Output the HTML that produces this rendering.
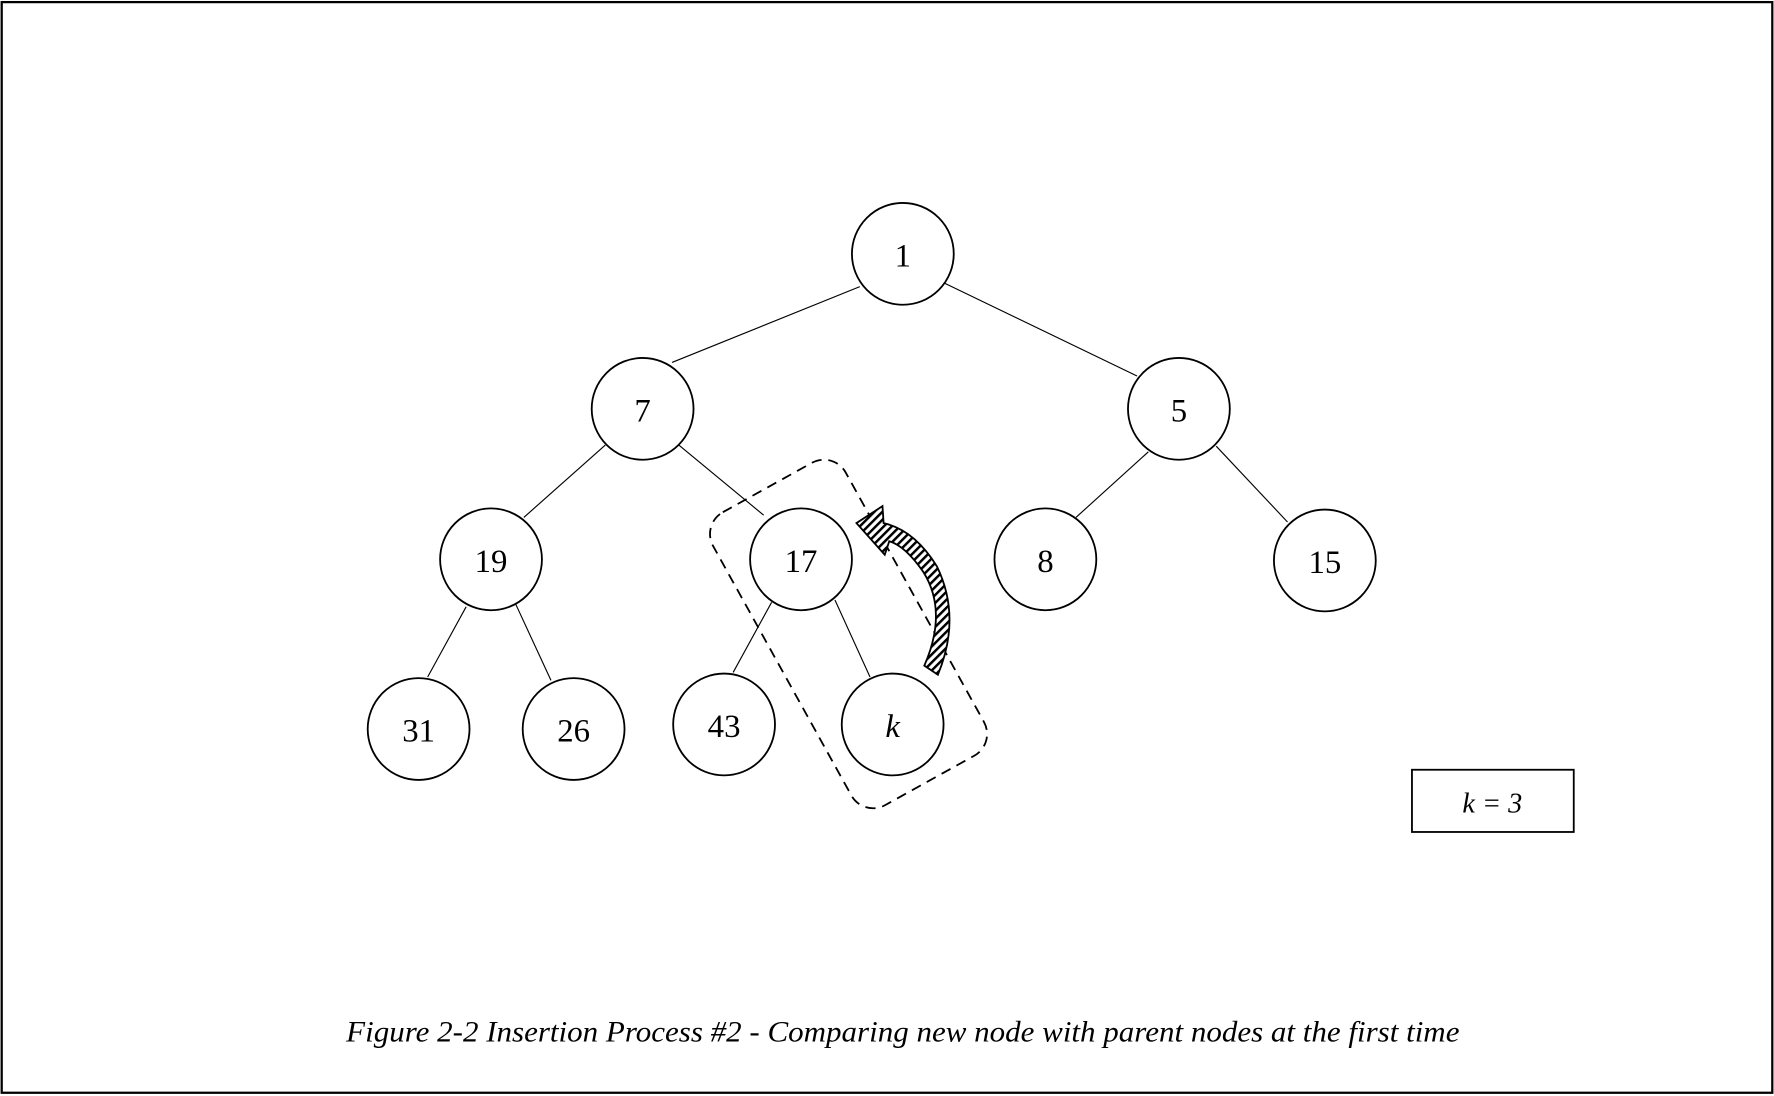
<!DOCTYPE html>
<html><head><style>html,body{margin:0;padding:0;background:#fff}svg{display:block}</style></head>
<body>
<svg width="1774" height="1096" viewBox="0 0 1568 968" xmlns="http://www.w3.org/2000/svg" font-family="Liberation Serif, serif">
<defs>
<pattern id="h" width="5" height="5" patternUnits="userSpaceOnUse" patternTransform="rotate(45)">
<rect width="5" height="5" fill="#fff"/><rect width="2.2" height="5" fill="#000"/>
</pattern>
</defs>
<rect x="1.5" y="1.5" width="1565" height="964" fill="none" stroke="#000" stroke-width="2"/>
<g stroke="#000" stroke-width="1">
<line x1="760" y1="253" x2="594" y2="320"/>
<line x1="835" y1="250" x2="1005" y2="332"/>
<line x1="535" y1="393" x2="463" y2="457"/>
<line x1="600" y1="393" x2="675" y2="455"/>
<line x1="1015" y1="399" x2="951" y2="457"/>
<line x1="1075" y1="394" x2="1138" y2="461"/>
<line x1="412" y1="536" x2="378" y2="598"/>
<line x1="456" y1="534" x2="487" y2="601"/>
<line x1="682" y1="532" x2="648" y2="594"/>
<line x1="738" y1="530" x2="769" y2="598"/>
</g>
<g fill="#fff" stroke="#000" stroke-width="1.6">
<circle cx="798" cy="224" r="45"/>
<circle cx="568" cy="361" r="45"/>
<circle cx="1042" cy="361" r="45"/>
<circle cx="434" cy="494" r="45"/>
<circle cx="708" cy="494" r="45"/>
<circle cx="924" cy="494" r="45"/>
<circle cx="1171" cy="495" r="45"/>
<circle cx="370" cy="644" r="45"/>
<circle cx="507" cy="644" r="45"/>
<circle cx="640" cy="640" r="45"/>
<circle cx="789" cy="640" r="45"/>
</g>
<g font-size="29" text-anchor="middle">
<text x="798" y="235">1</text>
<text x="568" y="372">7</text>
<text x="1042" y="372">5</text>
<text x="434" y="505">19</text>
<text x="708" y="505">17</text>
<text x="924" y="505">8</text>
<text x="1171" y="506">15</text>
<text x="370" y="655">31</text>
<text x="507" y="655">26</text>
<text x="640" y="651">43</text>
<text x="789" y="651" font-style="italic">k</text>
</g>
<rect x="683" y="412" width="134" height="296" rx="22" fill="none" stroke="#000" stroke-width="1.6" stroke-dasharray="9,6" transform="rotate(-29 750 560)"/>
<path d="M817,588 Q838,540 816,505 Q800,482 786,478 L782,490 L757,462 L780,447 L781,462 Q808,468 828,500 Q850,545 829,596 Z" fill="url(#h)" stroke="#000" stroke-width="1.6"/>
<rect x="1248" y="680" width="143" height="55" fill="#fff" stroke="#000" stroke-width="1.6"/>
<text x="1319" y="718" font-size="25" font-style="italic" text-anchor="middle">k  = 3</text>
<text x="306" y="920" font-size="26" font-style="italic" textLength="984" lengthAdjust="spacingAndGlyphs">Figure 2-2 Insertion Process #2 - Comparing new node with parent nodes at the first time</text>
</svg>
</body></html>
